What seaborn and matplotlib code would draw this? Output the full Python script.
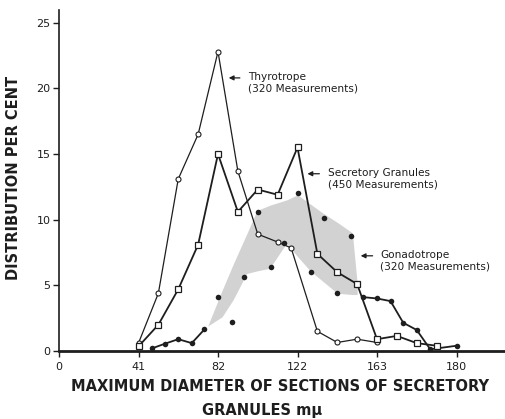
import numpy as np
import matplotlib
matplotlib.use('Agg')
import matplotlib.pyplot as plt
import seaborn as sns

# x positions are in tick units (tick i -> label i)
tick_labels = ['0', '41', '82', '122', '163', '180']

thyro_x = [1.0, 1.25, 1.5, 1.75, 2.0, 2.25, 2.5, 2.75, 2.92, 3.25, 3.5, 3.75, 4.0]
thyro_y = [0.6, 4.4, 13.1, 16.5, 22.8, 13.7, 8.9, 8.3, 7.85, 1.5, 0.65, 0.9, 0.65]

gran_x = [1.0, 1.25, 1.5, 1.75, 2.0, 2.25, 2.5, 2.75, 3.0, 3.25, 3.5, 3.75, 4.0, 4.25, 4.5, 4.75]
gran_y = [0.35, 2.0, 4.7, 8.1, 15.0, 10.6, 12.3, 11.9, 15.5, 7.4, 6.0, 5.1, 0.9, 1.15, 0.6, 0.4]

gonad_x = [1.17, 1.33, 1.5, 1.67, 1.83, 2.0, 2.17, 2.33, 2.5, 2.67, 2.83, 3.0,
           3.17, 3.33, 3.5, 3.67, 3.83, 4.0, 4.17, 4.33, 4.5, 4.67, 5.0]
gonad_y = [0.2, 0.55, 0.9, 0.6, 1.65, 4.1, 2.2, 5.65, 10.6, 6.4, 8.2, 12.0,
           6.0, 10.1, 4.4, 8.75, 4.1, 4.0, 3.8, 2.15, 1.6, 0.13, 0.4]
# only the tails of the gonadotrope series are joined by a line
gonad_head = 5
gonad_tail = 16

band_x = [1.87, 2.05, 2.19, 2.36, 2.49, 2.65, 2.86, 3.0, 3.16, 3.32, 3.5, 3.69, 3.75]
band_hi = [1.9, 4.6, 6.6, 8.9, 10.7, 11.1, 11.5, 11.9, 11.2, 10.5, 9.8, 9.0, 5.2]
band_lo = [1.9, 2.6, 3.9, 5.9, 6.1, 6.3, 8.2, 7.2, 6.1, 5.3, 4.4, 4.3, 4.3]

sns.set_style('ticks')
plt.rcParams['font.family'] = ['DejaVu Sans']

fig = plt.figure(figsize=(5.05, 4.19), dpi=100)
ax = fig.add_axes([59/505, 68/419, 446/505, 341/419])

ink = '#1e1e1e'
ax.fill_between(band_x, band_lo, band_hi, color='#d2d2d2', lw=0, zorder=1)

sns.lineplot(x=thyro_x, y=thyro_y, ax=ax, color=ink, lw=0.9, marker='o', ms=3.6,
             markerfacecolor='white', markeredgecolor=ink, markeredgewidth=0.8, zorder=3)
sns.lineplot(x=gran_x, y=gran_y, ax=ax, color=ink, lw=1.3, marker='s', ms=4.2,
             markerfacecolor='white', markeredgecolor=ink, markeredgewidth=0.9, zorder=4)
sns.lineplot(x=gonad_x[:gonad_head], y=gonad_y[:gonad_head], ax=ax, color=ink, lw=1.3, zorder=2)
sns.lineplot(x=gonad_x[gonad_tail:], y=gonad_y[gonad_tail:], ax=ax, color=ink, lw=1.3, zorder=2)
sns.scatterplot(x=gonad_x, y=gonad_y, ax=ax, color=ink, s=16, linewidth=0, zorder=5)

ax.set_xlim(0, 446/79.5)
ax.set_ylim(0, 341/13.13)
ax.set_xticks(range(len(tick_labels)))
ax.set_xticklabels(tick_labels)
ax.set_yticks([0, 5, 10, 15, 20, 25])
ax.tick_params(axis='both', direction='out', length=4, width=1, colors=ink, labelsize=8)
ax.tick_params(axis='x', pad=4)
ax.tick_params(axis='y', pad=2)
sns.despine(ax=ax)
ax.spines['left'].set_linewidth(1.2)
ax.spines['bottom'].set_linewidth(2)
ax.spines['left'].set_color(ink)
ax.spines['bottom'].set_color(ink)

arrow = dict(arrowstyle='-|>', color=ink, lw=0.9, mutation_scale=7)
notes = [
    ('Thyrotrope\n(320 Measurements)', 2.10, 20.8, 2.31, 2.38),
    ('Secretory Granules\n(450 Measurements)', 3.09, 13.5, 3.31, 3.38),
    ('Gonadotrope\n(320 Measurements)', 3.76, 7.25, 3.98, 4.04),
]
for label, hx, hy, tx, lx in notes:
    ax.annotate('', xy=(hx, hy), xytext=(tx, hy), arrowprops=arrow)
    ax.text(lx, hy + 0.45, label, fontsize=7.6, color=ink, va='top', ha='left',
            linespacing=1.15)

fig.text(280/505, 1 - 386/419, 'MAXIMUM DIAMETER OF SECTIONS OF SECRETORY',
         ha='center', va='center', fontsize=10.5, fontweight='bold', color=ink)
fig.text(262/505, 1 - 410/419, 'GRANULES mμ', ha='center', va='center',
         fontsize=10.5, fontweight='bold', color=ink)
fig.text(14/505, 1 - 178/419, 'DISTRIBUTION PER CENT', rotation=90,
         ha='center', va='center', fontsize=10.5, fontweight='bold', color=ink)

fig.savefig('out.png', dpi=100)
